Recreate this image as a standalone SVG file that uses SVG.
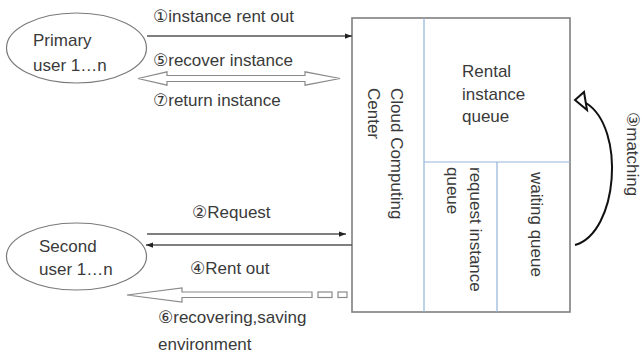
<svg xmlns="http://www.w3.org/2000/svg" width="642" height="353" viewBox="0 0 642 353">
  <defs>
    <marker id="head" viewBox="0 0 8 6" refX="8" refY="3" markerWidth="7" markerHeight="5.5" markerUnits="userSpaceOnUse" orient="auto">
      <path d="M0,0 L8,3 L0,6 Z" fill="#222"/>
    </marker>
    <style>
      text { font-family: "Liberation Sans", "DejaVu Sans", sans-serif; font-size: 17px; fill: #3a3a3a; }
      .user { fill: #fff; stroke: #7a7a7a; stroke-width: 1.2; }
      .frame { fill: #fff; stroke: #7f7f7f; stroke-width: 1.6; }
      .split { stroke: #95b3d7; stroke-width: 1.2; fill: none; }
      .link { stroke: #555; stroke-width: 1.4; fill: none; marker-end: url(#head); }
      .hollow { fill: #fff; stroke: #8a8a8a; stroke-width: 1.2; stroke-linejoin: miter; }
      .curve { stroke: #111; stroke-width: 2; fill: none; }
    </style>
  </defs>

  <rect width="642" height="353" fill="#fff"/>

  <!-- users -->
  <g id="primary-user">
    <ellipse class="user" cx="76.5" cy="48" rx="70" ry="35"/>
    <text x="33" y="46">Primary</text>
    <text x="33" y="71">user 1…n</text>
  </g>

  <g id="second-user">
    <ellipse class="user" cx="76.5" cy="256.5" rx="70" ry="33.5"/>
    <text x="39" y="252">Second</text>
    <text x="39" y="275">user 1…n</text>
  </g>

  <!-- cloud computing center with its queues -->
  <g id="cloud-center">
    <rect class="frame" x="352" y="18" width="218" height="294"/>
    <path class="split" d="M424,18 V312 M424,162 H570 M497,162 V312"/>
    <g transform="translate(391,88) rotate(90)">
      <text x="0" y="0">Cloud Computing</text>
      <text x="0" y="23">Center</text>
    </g>
  </g>

  <g id="rental-queue">
    <text x="462" y="77">Rental</text>
    <text x="462" y="100">instance</text>
    <text x="462" y="122">queue</text>
  </g>

  <g id="request-queue">
    <g transform="translate(470,167) rotate(90)">
      <text x="0" y="0">request instance</text>
      <text x="0" y="23">queue</text>
    </g>
  </g>

  <g id="waiting-queue">
    <text transform="translate(531,172) rotate(90)">waiting queue</text>
  </g>

  <!-- connectors -->
  <g id="connectors">
    <line class="link" x1="147" y1="36" x2="352" y2="36"/>
    <line class="link" x1="147" y1="234" x2="346" y2="234"/>
    <line class="link" x1="352" y1="245" x2="146" y2="245"/>

    <!-- two-way hollow arrow: recover / return -->
    <polygon class="hollow" points="138,78.5 167,71.8 167,75.5 305,75.5 305,71.8 340,78.5 305,85.2 305,81.5 167,81.5 167,85.2"/>

    <!-- hollow arrow with dashed tail: recovering, saving -->
    <polygon class="hollow" points="127,295 182,288 182,292 312,292 312,297.5 182,297.5 182,302"/>
    <rect class="hollow" x="318" y="292" width="14" height="5.5"/>
    <rect class="hollow" x="338" y="292" width="9" height="5.5"/>

    <!-- matching loop -->
    <path class="curve" d="M575,245 C618,233 626,128 586,103"/>
    <polygon points="575,100 584,92 587,110" fill="#fff" stroke="#111" stroke-width="2" stroke-linejoin="miter"/>
  </g>

  <!-- connector labels -->
  <g id="labels">
    <text x="153" y="22">①instance rent out</text>
    <text x="153" y="66">⑤recover instance</text>
    <text x="153" y="106">⑦return instance</text>
    <text x="192" y="218">②Request</text>
    <text x="190" y="274">④Rent out</text>
    <text x="158" y="323">⑥recovering,saving</text>
    <text x="158" y="350">environment</text>
    <text transform="translate(627,112) rotate(90)">③matching</text>
  </g>
</svg>
